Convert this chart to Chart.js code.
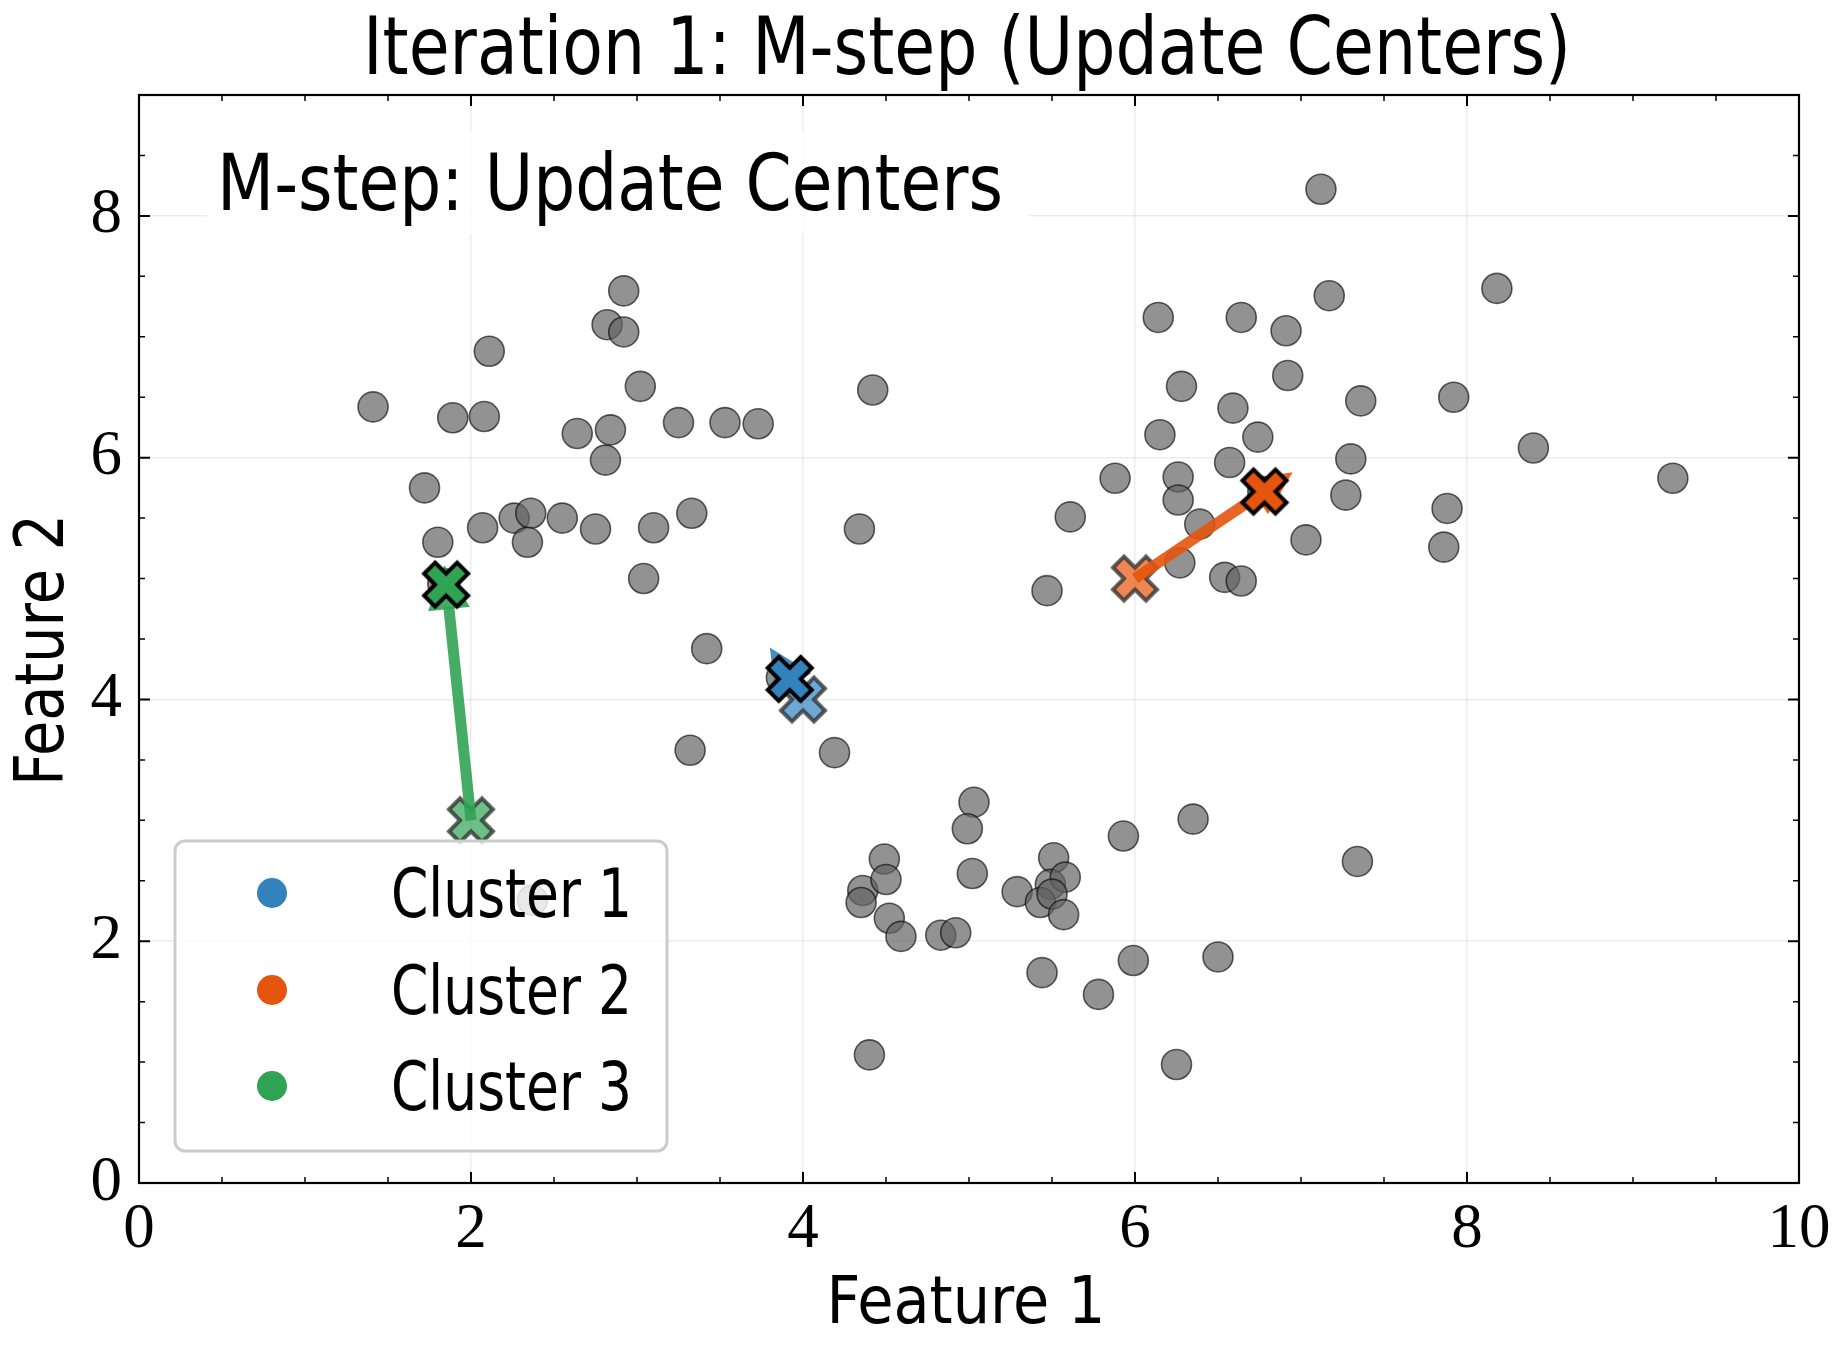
<!DOCTYPE html>
<html>
<head>
<meta charset="utf-8">
<script src="https://cdn.jsdelivr.net/npm/chart.js@4.4.1/dist/chart.umd.min.js"></script>
<style>
  html, body { margin: 0; padding: 0; background: #fff; }
  canvas { display: block; }
</style>
</head>
<body>
<canvas id="chart" width="1846" height="1350"></canvas>
<script>
// Data points (Feature 1, Feature 2)
const pointsX = [1.41, 1.89, 2.08, 2.11, 1.72, 1.80, 1.83, 2.07, 2.26, 2.36, 2.34, 2.55, 2.75, 2.64, 2.84, 2.81,
  2.82, 2.92, 2.92, 3.02, 3.25, 3.53, 3.73, 3.33, 3.10, 3.04, 3.42, 3.32, 4.42, 4.34, 4.19, 2.37, 3.87,
  4.49, 4.36, 4.35, 4.50, 4.52, 4.59, 4.40, 4.83, 4.92, 5.03, 4.99, 5.02, 5.29, 5.44, 5.51, 5.49, 5.58,
  5.43, 5.50, 5.57, 5.78, 5.93, 5.99, 6.35, 6.50, 6.25, 7.34,
  7.12, 7.17, 8.18, 6.14, 6.64, 6.91, 6.28, 6.92, 6.59, 7.36, 7.92, 6.15, 6.74, 8.40, 9.24, 7.30, 5.88,
  6.26, 6.57, 6.26, 6.39, 5.61, 7.27, 7.88, 7.86, 7.03, 6.27, 5.47, 6.54, 6.64, 6.77];
const pointsY = [6.42, 6.33, 6.34, 6.88, 5.75, 5.30, 4.96, 5.42, 5.50, 5.54, 5.30, 5.50, 5.41, 6.20, 6.23, 5.98,
  7.10, 7.04, 7.38, 6.59, 6.29, 6.29, 6.28, 5.54, 5.42, 5.00, 4.42, 3.58, 6.56, 5.41, 3.56, 2.34, 4.18,
  2.68, 2.42, 2.32, 2.51, 2.19, 2.04, 1.06, 2.05, 2.07, 3.15, 2.93, 2.56, 2.41, 1.74, 2.69, 2.47, 2.53,
  2.32, 2.39, 2.22, 1.56, 2.87, 1.84, 3.01, 1.87, 0.98, 2.66,
  8.22, 7.34, 7.40, 7.16, 7.16, 7.05, 6.59, 6.68, 6.41, 6.47, 6.50, 6.19, 6.17, 6.08, 5.83, 5.99, 5.83,
  5.84, 5.96, 5.65, 5.45, 5.51, 5.69, 5.58, 5.26, 5.32, 5.13, 4.90, 5.01, 4.98, 5.72];

// Cluster centers before and after the M-step
const clusterNames = ['Cluster 1', 'Cluster 2', 'Cluster 3'];
const clusterColors = ['#3182bd', '#e6550d', '#31a354'];
const oldCentersX = [4.00, 6.00, 2.00];
const oldCentersY = [4.00, 5.00, 3.00];
const newCentersX = [3.92, 6.78, 1.85];
const newCentersY = [4.17, 5.72, 4.95];
// where each arrow head ends
const arrowTipX = [3.80, 6.95, 1.84];
const arrowTipY = [4.43, 5.88, 5.11];

// Axis ticks
const xTicks = [0, 2, 4, 6, 8, 10];
const yTicks = [0, 2, 4, 6, 8];

const chartTitle = 'Iteration 1: M-step (Update Centers)';
const stepLabel = 'M-step: Update Centers';
const xLabel = 'Feature 1';
const yLabel = 'Feature 2';

const SANS = '"DejaVu Sans"';

// filled "X" marker, drawn once into a small canvas
function makeX(fill, edge, lw) {
  const S = 44;
  const c = document.createElement('canvas');
  c.width = 60; c.height = 60;
  const g = c.getContext('2d');
  const v = [[-0.25, -0.5], [0, -0.25], [0.25, -0.5], [0.5, -0.25], [0.25, 0], [0.5, 0.25],
    [0.25, 0.5], [0, 0.25], [-0.25, 0.5], [-0.5, 0.25], [-0.25, 0], [-0.5, -0.25]];
  g.translate(30, 30);
  g.beginPath();
  v.forEach((p, i) => i ? g.lineTo(p[0] * S, p[1] * S) : g.moveTo(p[0] * S, p[1] * S));
  g.closePath();
  g.fillStyle = fill;
  g.fill();
  g.lineJoin = 'miter';
  g.lineWidth = lw;
  g.strokeStyle = edge;
  g.stroke();
  return c;
}

function withAlpha(hex, a) {
  const n = parseInt(hex.slice(1), 16);
  return `rgba(${n >> 16},${(n >> 8) & 255},${n & 255},${a})`;
}

const newImgs = clusterColors.map(c => makeX(c, '#000', 4));
const oldImgs = clusterColors.map(c => makeX(withAlpha(c, 0.7), 'rgba(40,40,40,0.75)', 4));

function fitText(ctx, text, x, y, size, width, align) {
  ctx.font = size + 'px ' + SANS;
  const sx = width / ctx.measureText(text).width;
  ctx.save();
  ctx.translate(x, y);
  ctx.scale(sx, 1);
  ctx.textAlign = align;
  ctx.textBaseline = 'alphabetic';
  ctx.fillStyle = '#000';
  ctx.fillText(text, 0, 0);
  ctx.restore();
  return sx;
}

const decorPlugin = {
  id: 'decor',
  beforeDraw(chart) {
    const ctx = chart.ctx;
    ctx.save();
    ctx.fillStyle = '#fff';
    ctx.fillRect(0, 0, chart.width, chart.height);
    ctx.restore();
  },
  afterDatasetDraw(chart, args) {
    if (args.index !== 1) return;
    // arrows from old centers to new ones
    const ctx = chart.ctx;
    const xs = chart.scales.x, ys = chart.scales.y;
    const headLen = 44, headHalf = 21;
    ctx.save();
    for (let i = 0; i < clusterColors.length; i++) {
      const x0 = xs.getPixelForValue(oldCentersX[i]), y0 = ys.getPixelForValue(oldCentersY[i]);
      const tx = xs.getPixelForValue(arrowTipX[i]), ty = ys.getPixelForValue(arrowTipY[i]);
      const len = Math.hypot(tx - x0, ty - y0);
      const ux = (tx - x0) / len, uy = (ty - y0) / len;
      const px = -uy, py = ux;
      const bx = tx - ux * headLen, by = ty - uy * headLen;
      ctx.globalAlpha = 0.9;
      ctx.strokeStyle = clusterColors[i];
      ctx.fillStyle = clusterColors[i];
      ctx.lineWidth = 11;
      ctx.lineCap = 'butt';
      ctx.beginPath();
      ctx.moveTo(x0, y0);
      ctx.lineTo(bx + ux * 2, by + uy * 2);
      ctx.stroke();
      ctx.beginPath();
      ctx.moveTo(bx + px * headHalf, by + py * headHalf);
      ctx.lineTo(tx, ty);
      ctx.lineTo(bx - px * headHalf, by - py * headHalf);
      ctx.closePath();
      ctx.fill();
    }
    ctx.restore();
  },
  afterDraw(chart) {
    const ctx = chart.ctx;
    const a = chart.chartArea;
    const xs = chart.scales.x, ys = chart.scales.y;
    ctx.save();

    // inward ticks on all four sides
    ctx.strokeStyle = '#000';
    for (let v = 0; v <= 10.001; v += 0.5) {
      const major = xTicks.includes(Math.round(v * 10) / 10);
      const L = major ? 11 : 6;
      ctx.lineWidth = major ? 2 : 1.5;
      const p = xs.getPixelForValue(v);
      ctx.beginPath();
      ctx.moveTo(p, a.bottom); ctx.lineTo(p, a.bottom - L);
      ctx.moveTo(p, a.top); ctx.lineTo(p, a.top + L);
      ctx.stroke();
    }
    for (let v = 0; v <= 9.001; v += 0.5) {
      const major = yTicks.includes(Math.round(v * 10) / 10);
      const L = major ? 11 : 6;
      ctx.lineWidth = major ? 2 : 1.5;
      const p = ys.getPixelForValue(v);
      ctx.beginPath();
      ctx.moveTo(a.left, p); ctx.lineTo(a.left + L, p);
      ctx.moveTo(a.right, p); ctx.lineTo(a.right - L, p);
      ctx.stroke();
    }
    // frame
    ctx.lineWidth = 2.2;
    ctx.strokeRect(a.left, a.top, a.right - a.left, a.bottom - a.top);

    // step annotation with light box
    ctx.fillStyle = 'rgba(255,255,255,0.8)';
    ctx.fillRect(207, 132, 823, 102);
    fitText(ctx, stepLabel, 217, 210, 78, 786, 'left');

    // legend
    const lx = 175, ly = 841, lw = 492, lh = 310, r = 10;
    ctx.beginPath();
    ctx.roundRect(lx, ly, lw, lh, r);
    ctx.fillStyle = 'rgba(255,255,255,0.8)';
    ctx.fill();
    ctx.lineWidth = 3;
    ctx.strokeStyle = '#cccccc';
    ctx.stroke();
    const rows = [893, 990, 1086];
    ctx.font = 68 + 'px ' + SANS;
    const sx = 241 / ctx.measureText(clusterNames[0]).width;
    clusterNames.forEach((name, i) => {
      ctx.beginPath();
      ctx.arc(272, rows[i], 15, 0, Math.PI * 2);
      ctx.fillStyle = clusterColors[i];
      ctx.fill();
      ctx.save();
      ctx.font = 68 + 'px ' + SANS;
      ctx.translate(391, rows[i] + 24);
      ctx.scale(sx, 1);
      ctx.fillStyle = '#000';
      ctx.textAlign = 'left';
      ctx.textBaseline = 'alphabetic';
      ctx.fillText(name, 0, 0);
      ctx.restore();
    });

    // title and axis titles
    fitText(ctx, chartTitle, 967, 74, 80, 1208, 'center');
    fitText(ctx, xLabel, 966, 1323, 66, 279, 'center');
    ctx.save();
    ctx.translate(63, 650);
    ctx.rotate(-Math.PI / 2);
    fitText(ctx, yLabel, 0, 0, 68, 272, 'center');
    ctx.restore();

    ctx.restore();
  }
};

const grayPoints = pointsX.map((x, i) => ({ x: x, y: pointsY[i] }));
const oldCenters = oldCentersX.map((x, i) => ({ x: x, y: oldCentersY[i] }));
const newCenters = newCentersX.map((x, i) => ({ x: x, y: newCentersY[i] }));

new Chart(document.getElementById('chart'), {
  type: 'scatter',
  data: {
    datasets: [
      { label: 'new centers', data: newCenters, order: 0, pointStyle: newImgs, pointRadius: 22 },
      { label: 'old centers', data: oldCenters, order: 1, pointStyle: oldImgs, pointRadius: 22 },
      {
        label: 'points', data: grayPoints, order: 2, pointRadius: 15,
        backgroundColor: 'rgba(100,100,100,0.7)', borderColor: 'rgba(0,0,0,0.6)', borderWidth: 1.6
      }
    ]
  },
  options: {
    responsive: false,
    devicePixelRatio: 1,
    animation: false,
    events: [],
    layout: { padding: { left: 0, top: 95, right: 47, bottom: 0 } },
    plugins: { legend: { display: false }, title: { display: false }, tooltip: { enabled: false } },
    scales: {
      x: {
        type: 'linear', min: 0, max: 10,
        afterBuildTicks: s => { s.ticks = xTicks.map(v => ({ value: v })); },
        afterFit: s => { s.height = 167; },
        ticks: { font: { family: 'Liberation Serif', size: 63 }, color: '#000', padding: 10, maxRotation: 0 },
        grid: { color: 'rgba(0,0,0,0.075)', lineWidth: 1.5, drawTicks: false },
        border: { display: false }
      },
      y: {
        type: 'linear', min: 0, max: 9,
        afterBuildTicks: s => { s.ticks = yTicks.map(v => ({ value: v })); },
        afterFit: s => { s.width = 139; },
        ticks: { font: { family: 'Liberation Serif', size: 63 }, color: '#000', padding: 17 },
        grid: { color: 'rgba(0,0,0,0.075)', lineWidth: 1.5, drawTicks: false },
        border: { display: false }
      }
    }
  },
  plugins: [decorPlugin]
});
</script>
</body>
</html>
